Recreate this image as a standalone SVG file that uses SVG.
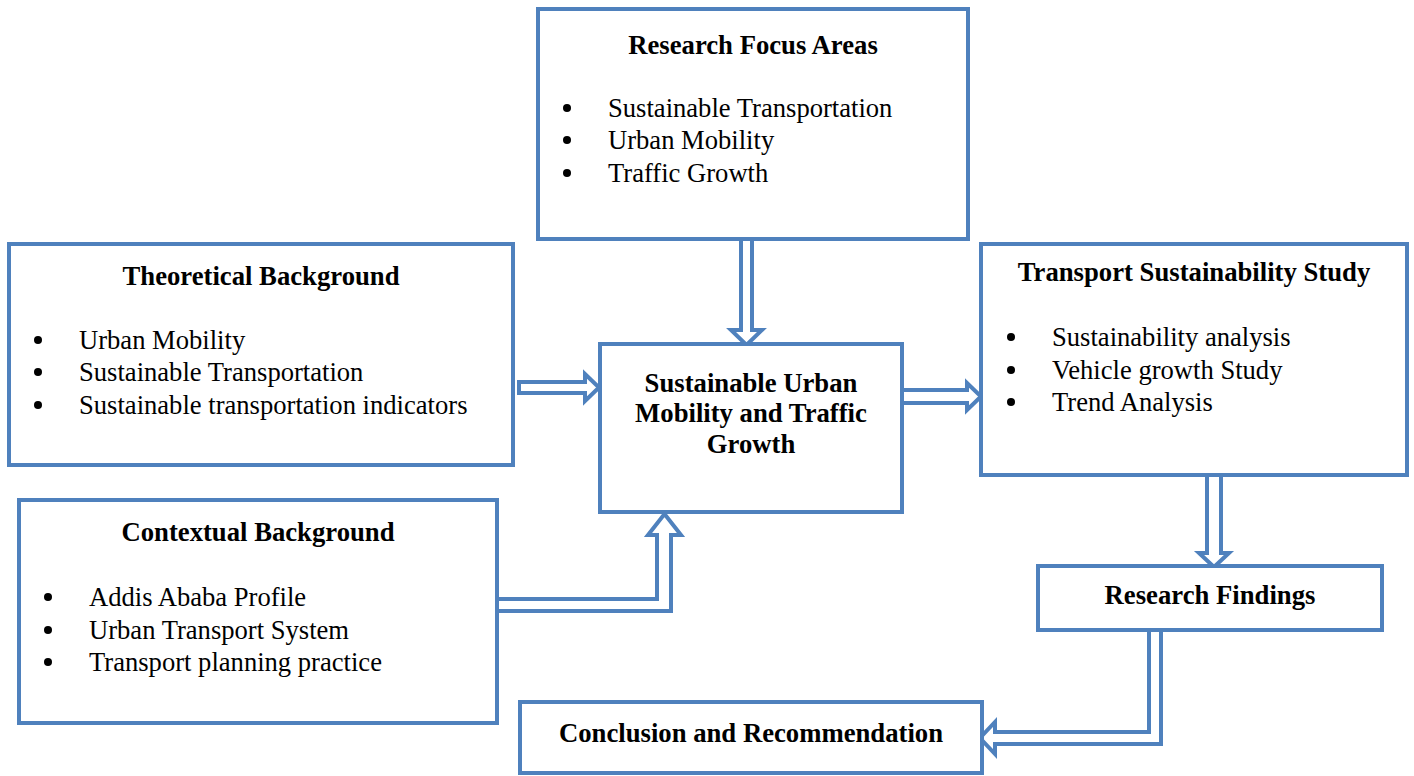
<svg xmlns="http://www.w3.org/2000/svg" width="1414" height="776" viewBox="0 0 1414 776">
<style>
.box{fill:#fff;stroke:#4F81BD;stroke-width:4}
.arr{fill:#fff;stroke:#4F81BD;stroke-width:4;stroke-linejoin:miter}
.t{font-family:"Liberation Serif","Times New Roman",serif;font-size:26.7px;font-weight:bold;fill:#000;text-anchor:middle}
.b{font-family:"Liberation Serif","Times New Roman",serif;font-size:26.6px;fill:#000}
.dot{fill:#000}
</style>
<rect width="1414" height="776" fill="#fff"/>
<g id="connectors">
<path class="arr" d="M741,239 L741,330 L731,330 L746.5,345 L762,330 L752,330 L752,239"/>
<path class="arr" d="M519,382 L585,382 L585,374 L599,387.5 L585,401 L585,393 L519,393 Z"/>
<path class="arr" d="M903,390 L967,390 L967,383 L981,396.5 L967,410 L967,403 L903,403"/>
<path class="arr" d="M1207,476 L1207,553 L1199,553 L1214,567 L1229,553 L1221,553 L1221,476"/>
<path class="arr" d="M499,599 L657,599 L657,535 L648,535 L664.5,514 L681,535 L671,535 L671,611 L499,611"/>
<path class="arr" d="M1149,631 L1149,732 L995,732 L995,722 L980,738 L995,754 L995,744 L1161,744 L1161,631"/>
</g>
<g id="research-focus">
<rect class="box" x="538" y="9" width="430" height="230"/>
<text class="t" x="753" y="54">Research Focus Areas</text>
<circle class="dot" cx="567" cy="108" r="4"/><text class="b" x="608" y="117">Sustainable Transportation</text>
<circle class="dot" cx="567" cy="140" r="4"/><text class="b" x="608" y="149">Urban Mobility</text>
<circle class="dot" cx="567" cy="173" r="4"/><text class="b" x="608" y="182">Traffic Growth</text>
</g>
<g id="theoretical">
<rect class="box" x="9" y="244" width="504" height="221"/>
<text class="t" x="261" y="285">Theoretical Background</text>
<circle class="dot" cx="38" cy="340" r="4"/><text class="b" x="79" y="349">Urban Mobility</text>
<circle class="dot" cx="38" cy="372" r="4"/><text class="b" x="79" y="381">Sustainable Transportation</text>
<circle class="dot" cx="38" cy="405" r="4"/><text class="b" x="79" y="414">Sustainable transportation indicators</text>
</g>
<g id="contextual">
<rect class="box" x="19" y="500" width="478" height="223"/>
<text class="t" x="258" y="541">Contextual Background</text>
<circle class="dot" cx="48" cy="597" r="4"/><text class="b" x="89" y="606">Addis Ababa Profile</text>
<circle class="dot" cx="48" cy="630" r="4"/><text class="b" x="89" y="639">Urban Transport System</text>
<circle class="dot" cx="48" cy="662" r="4"/><text class="b" x="89" y="671">Transport planning practice</text>
</g>
<g id="center">
<rect class="box" x="600" y="344" width="302" height="168"/>
<text class="t" x="751" y="392">Sustainable Urban</text>
<text class="t" x="751" y="422">Mobility and Traffic</text>
<text class="t" x="751" y="453">Growth</text>
</g>
<g id="transport">
<rect class="box" x="981" y="244" width="426" height="231"/>
<text class="t" x="1194" y="281">Transport Sustainability Study</text>
<circle class="dot" cx="1011" cy="337" r="4"/><text class="b" x="1052" y="346">Sustainability analysis</text>
<circle class="dot" cx="1011" cy="370" r="4"/><text class="b" x="1052" y="379">Vehicle growth Study</text>
<circle class="dot" cx="1011" cy="402" r="4"/><text class="b" x="1052" y="411">Trend Analysis</text>
</g>
<g id="findings">
<rect class="box" x="1038" y="566" width="344" height="64"/>
<text class="t" x="1210" y="604">Research Findings</text>
</g>
<g id="conclusion">
<rect class="box" x="520" y="702" width="462" height="71"/>
<text class="t" x="751" y="742">Conclusion and Recommendation</text>
</g>
</svg>
